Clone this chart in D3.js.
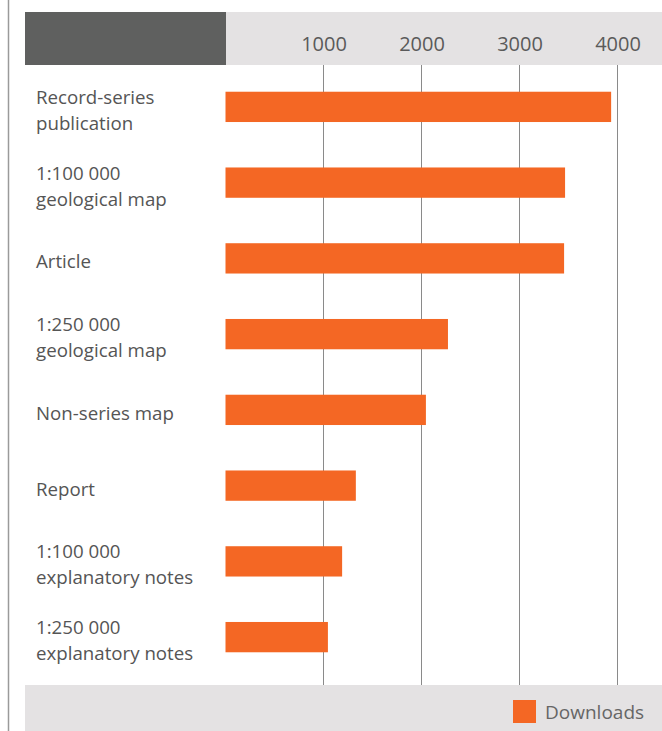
<!DOCTYPE html>
<html><head><meta charset="utf-8">
<script src="https://cdn.jsdelivr.net/npm/d3@7"></script>
<style>html,body{margin:0;padding:0;background:#fff;}svg{display:block;}</style>
</head><body>
<script>
const categories = [
  ["Record-series","publication"],
  ["1:100 000","geological map"],
  ["Article"],
  ["1:250 000","geological map"],
  ["Non-series map"],
  ["Report"],
  ["1:100 000","explanatory notes"],
  ["1:250 000","explanatory notes"]
];
const downloads = [3935, 3465, 3455, 2270, 2045, 1330, 1190, 1045];
const tickValues = [1000, 2000, 3000, 4000];
const seriesName = "Downloads";

const W = 662, H = 731;
const font = "'Open Sans', sans-serif";
const svg = d3.select("body").append("svg").attr("width", W).attr("height", H);

const x = d3.scaleLinear().domain([0, 4000]).range([225.5, 617.5]);
const y = d3.scaleBand().domain(d3.range(categories.length)).range([69, 675]).paddingInner(0.6).paddingOuter(0.3);

// left border line
svg.append("line").attr("x1", 8.5).attr("x2", 8.5).attr("y1", 0).attr("y2", H)
  .attr("stroke", "#9a9a9a").attr("stroke-width", 1.5);

// header band
svg.append("rect").attr("x", 25).attr("y", 12).attr("width", 201).attr("height", 53).attr("fill", "#5f605f");
svg.append("rect").attr("x", 226).attr("y", 12).attr("width", W - 226).attr("height", 53).attr("fill", "#e4e2e3");

// footer band
svg.append("rect").attr("x", 25).attr("y", 685).attr("width", W - 25).attr("height", H - 685).attr("fill", "#e4e2e3");

// gridlines
svg.append("g").selectAll("line").data(tickValues).join("line")
  .attr("x1", d => x(d)).attr("x2", d => x(d)).attr("y1", 65).attr("y2", 685)
  .attr("stroke", "#8a8a8a").attr("stroke-width", 1);

// tick labels via axis
const axis = d3.axisTop(x).tickValues(tickValues).tickFormat(d3.format("d")).tickSize(0).tickPadding(0);
const ag = svg.append("g").attr("transform", "translate(0,51)").call(axis);
ag.select(".domain").remove();
ag.selectAll("text").attr("fill", "#5a5a5a").style("font-family", font).style("font-size", "20px");

// bars
svg.append("g").selectAll("rect").data(downloads).join("rect")
  .attr("x", x(0)).attr("y", (d, i) => y(i)).attr("width", d => x(d) - x(0)).attr("height", y.bandwidth())
  .attr("fill", "#f46724");

// category labels
const lg = svg.append("g");
categories.forEach((lines, i) => {
  const cy = y(i) + y.bandwidth() / 2;
  const t = lg.append("text").attr("x", 36).attr("fill", "#555")
    .style("font-family", font).style("font-size", "18.7px");
  const n = lines.length;
  lines.forEach((s, j) => {
    t.append("tspan").attr("x", 36).attr("y", cy + (j - (n - 1) / 2) * 26 + 10).text(s);
  });
});

// legend
svg.append("rect").attr("x", 513).attr("y", 700).attr("width", 23).attr("height", 23).attr("fill", "#f46724");
svg.append("text").attr("x", 545).attr("y", 719).attr("fill", "#666")
  .style("font-family", font).style("font-size", "19px").text(seriesName);
</script>
</body></html>
